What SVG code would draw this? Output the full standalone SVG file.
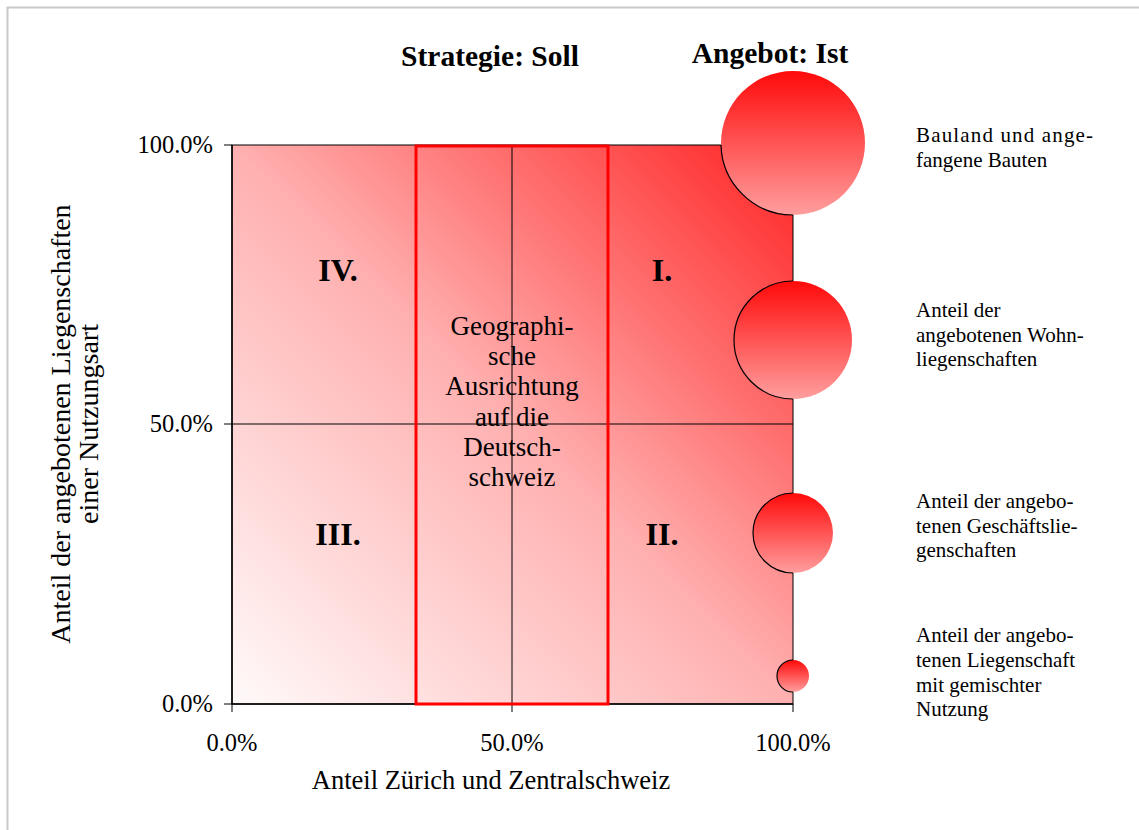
<svg xmlns="http://www.w3.org/2000/svg" width="1139" height="830" viewBox="0 0 1139 830">
<defs>
<linearGradient id="plotGrad" x1="0" y1="1" x2="1" y2="0">
<stop offset="0" stop-color="#fffafa"/>
<stop offset="0.5" stop-color="#ffb0b0"/>
<stop offset="1" stop-color="#ff2222"/>
</linearGradient>
<linearGradient id="bubGrad" x1="0" y1="0" x2="0" y2="1">
<stop offset="0" stop-color="#ff0a0a"/>
<stop offset="1" stop-color="#ff9e9e"/>
</linearGradient>
<clipPath id="plotClip"><rect x="232" y="145" width="561" height="559"/></clipPath>
<style>
text{font-family:"Liberation Serif","Times New Roman",serif;fill:#000}
.tick{font-size:24.5px}
.title{font-size:29.5px;font-weight:bold}
.quad{font-size:32px;font-weight:bold;text-anchor:middle}
.center{font-size:27px;text-anchor:middle}
.leg{font-size:21px}
.ax{font-size:26.5px;text-anchor:middle}
.ay{font-size:28px;text-anchor:middle}
.bub{fill:url(#bubGrad);stroke:none}
.bubEdge{fill:none;stroke:#000;stroke-width:1.2}
.grid{stroke:#000;stroke-width:1}
</style>
</defs>
<rect x="7.5" y="7.5" width="1140" height="830" fill="#fff" stroke="#c8c8c8" stroke-width="2"/>
<g id="plot">
<rect x="232" y="145" width="561" height="559" fill="url(#plotGrad)" stroke="#000" stroke-width="1"/>
</g>
<g id="connectors">
<line class="grid" x1="512" y1="145" x2="512" y2="704"/>
<line class="grid" x1="232" y1="424" x2="793" y2="424"/>
<line class="grid" x1="224" y1="145" x2="232" y2="145"/>
<line class="grid" x1="224" y1="424" x2="232" y2="424"/>
<line class="grid" x1="224" y1="704" x2="232" y2="704"/>
<line class="grid" x1="232" y1="704" x2="232" y2="712"/>
<line class="grid" x1="512" y1="704" x2="512" y2="712"/>
<line class="grid" x1="793" y1="704" x2="793" y2="712"/>
<line x1="232" y1="704" x2="793" y2="704" stroke="#000" stroke-width="1.5"/>
<line x1="232" y1="145" x2="232" y2="704" stroke="#000" stroke-width="1.5"/>
</g>
<g id="strategy">
<rect x="416" y="146" width="192" height="558" fill="none" stroke="#ff0000" stroke-width="3"/>
<text class="center"><tspan x="512" y="335">Geographi-</tspan><tspan x="512" y="365">sche</tspan><tspan x="512" y="395">Ausrichtung</tspan><tspan x="512" y="426">auf die</tspan><tspan x="512" y="456">Deutsch-</tspan><tspan x="512" y="486">schweiz</tspan></text>
</g>
<g id="quadrants">
<text class="quad" x="338" y="281">IV.</text>
<text class="quad" x="662" y="281">I.</text>
<text class="quad" x="338" y="545">III.</text>
<text class="quad" x="662" y="545">II.</text>
</g>
<g id="bubble1">
<circle class="bub" cx="793" cy="143" r="72"/>
<circle class="bubEdge" cx="793" cy="143" r="72" clip-path="url(#plotClip)"/>
</g>
<g id="bubble2">
<circle class="bub" cx="793" cy="340" r="59"/>
<circle class="bubEdge" cx="793" cy="340" r="59" clip-path="url(#plotClip)"/>
</g>
<g id="bubble3">
<circle class="bub" cx="793" cy="533" r="40"/>
<circle class="bubEdge" cx="793" cy="533" r="40" clip-path="url(#plotClip)"/>
</g>
<g id="bubble4">
<circle class="bub" cx="793" cy="676" r="16"/>
<circle class="bubEdge" cx="793" cy="676" r="16" clip-path="url(#plotClip)"/>
</g>
<g id="titles">
<text class="title" x="490" y="66" text-anchor="middle">Strategie: Soll</text>
<text class="title" x="770" y="63" text-anchor="middle">Angebot: Ist</text>
</g>
<g id="axes">
<text class="tick" x="213" y="153" text-anchor="end">100.0%</text>
<text class="tick" x="213" y="432" text-anchor="end">50.0%</text>
<text class="tick" x="213" y="712" text-anchor="end">0.0%</text>
<text class="tick" x="232" y="751" text-anchor="middle">0.0%</text>
<text class="tick" x="512" y="751" text-anchor="middle">50.0%</text>
<text class="tick" x="793" y="751" text-anchor="middle">100.0%</text>
<text class="ax" x="491" y="789">Anteil Zürich und Zentralschweiz</text>
<text class="ay" transform="translate(70,424) rotate(-90)" x="0" y="0">Anteil der angebotenen Liegenschaften</text>
<text class="ay" transform="translate(98,424) rotate(-90)" x="0" y="0">einer Nutzungsart</text>
</g>
<g id="legend">
<text class="leg"><tspan x="916" y="142" textLength="177" lengthAdjust="spacing">Bauland und ange-</tspan><tspan x="916" y="167">fangene Bauten</tspan></text>
<text class="leg"><tspan x="916" y="317">Anteil der</tspan><tspan x="916" y="342">angebotenen Wohn-</tspan><tspan x="916" y="366">liegenschaften</tspan></text>
<text class="leg"><tspan x="916" y="508">Anteil der angebo-</tspan><tspan x="916" y="533">tenen Geschäftslie-</tspan><tspan x="916" y="557">genschaften</tspan></text>
<text class="leg"><tspan x="916" y="642">Anteil der angebo-</tspan><tspan x="916" y="667">tenen Liegenschaft</tspan><tspan x="916" y="692">mit gemischter</tspan><tspan x="916" y="716">Nutzung</tspan></text>
</g>
</svg>
